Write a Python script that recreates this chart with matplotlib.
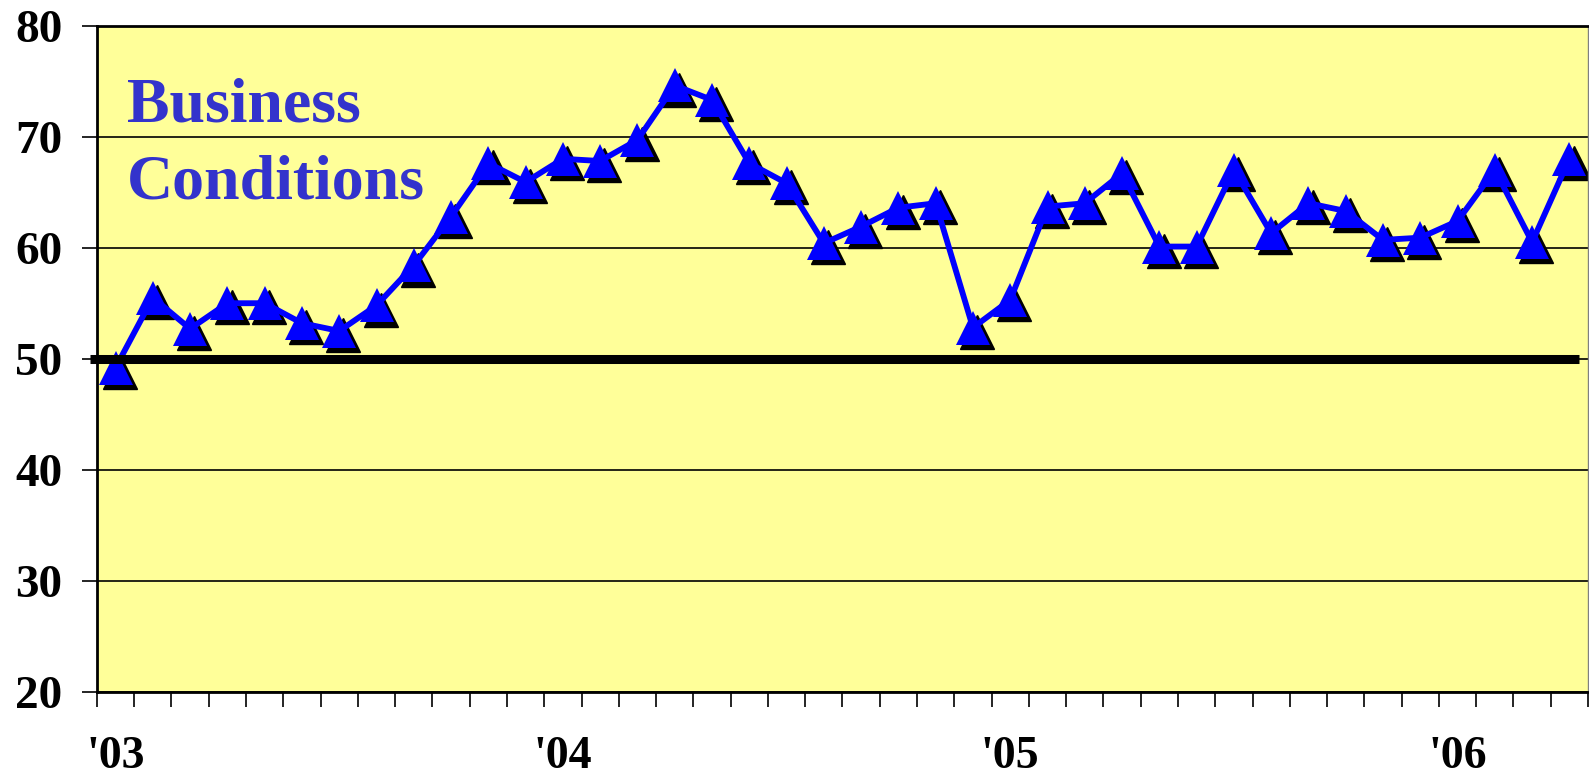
import numpy as np
import matplotlib
matplotlib.use("Agg")
import matplotlib.pyplot as plt
from matplotlib.transforms import offset_copy

# monthly readings, Jan 2003 - Apr 2006
values = [49.2, 55.5, 52.7, 55.0, 55.0, 53.2, 52.5, 54.8, 58.4, 62.8,
          67.6, 65.9, 68.0, 67.8, 69.7, 74.6, 73.3, 67.6, 65.8, 60.4,
          61.9, 63.6, 64.0, 52.8, 55.3, 63.7, 64.0, 66.7, 60.1, 60.1,
          67.0, 61.3, 64.0, 63.3, 60.7, 60.9, 62.4, 67.0, 60.5, 68.0]
year_labels = ["'03", "'04", "'05", "'06"]
year_pos = [0, 12, 24, 36]
y_ticks = [20, 30, 40, 50, 60, 70, 80]
baseline = 50

plt.rcParams['font.family'] = ['Liberation Serif', 'DejaVu Serif']
plt.rcParams['font.weight'] = 'bold'

fig = plt.figure(figsize=(15.89, 7.80), dpi=100)
ax = fig.add_axes([0.061, 0.1128, 0.9384, 0.8545])
ax.set_facecolor('#FFFF99')

x = np.arange(len(values))

ax.set_ylim(20, 80)
ax.set_xlim(-0.5, len(values) - 0.5)
ax.set_yticks(y_ticks)
ax.set_yticklabels([str(v) for v in y_ticks], fontsize=34, fontweight='bold')
ax.yaxis.grid(True, color='black', linewidth=1.2)
ax.set_axisbelow(True)
ax.tick_params(axis='y', direction='out', length=11, width=1.2, pad=14)

# boundary ticks between months, year labels under Jan
ax.set_xticks(np.arange(-0.5, len(values)), minor=True)
ax.set_xticks(year_pos)
ax.set_xticklabels(year_labels, fontsize=33, fontweight='bold')
ax.tick_params(axis='x', which='major', length=0, pad=32)
ax.tick_params(axis='x', which='minor', direction='out', length=11, width=1.2)

ax.spines['left'].set_linewidth(2)
ax.spines['bottom'].set_linewidth(2)
ax.spines['top'].set_linewidth(2)
ax.spines['right'].set_color('#808080')
ax.spines['right'].set_linewidth(1)

ax.plot(x, values, color='#0000FF', linewidth=4.2, zorder=3)
shadow = offset_copy(ax.transData, fig=fig, x=3, y=-3, units='points')
ax.plot(x, values, linestyle='none', marker='^', markersize=25,
        color='black', transform=shadow, zorder=2.5)
ax.plot(x, values, linestyle='none', marker='^', markersize=25,
        color='#0000FF', markeredgewidth=0, zorder=4)

ax.plot([-0.69, len(values) - 0.74], [baseline, baseline], color='black',
        linewidth=6.5, solid_capstyle='butt', clip_on=False, zorder=5)

ax.text(0.3, 75.3, 'Business\nConditions', color='#3333CC', fontsize=46,
        fontweight='bold', va='top', ha='left', linespacing=1.42)

fig.savefig('out.png', dpi=100)
